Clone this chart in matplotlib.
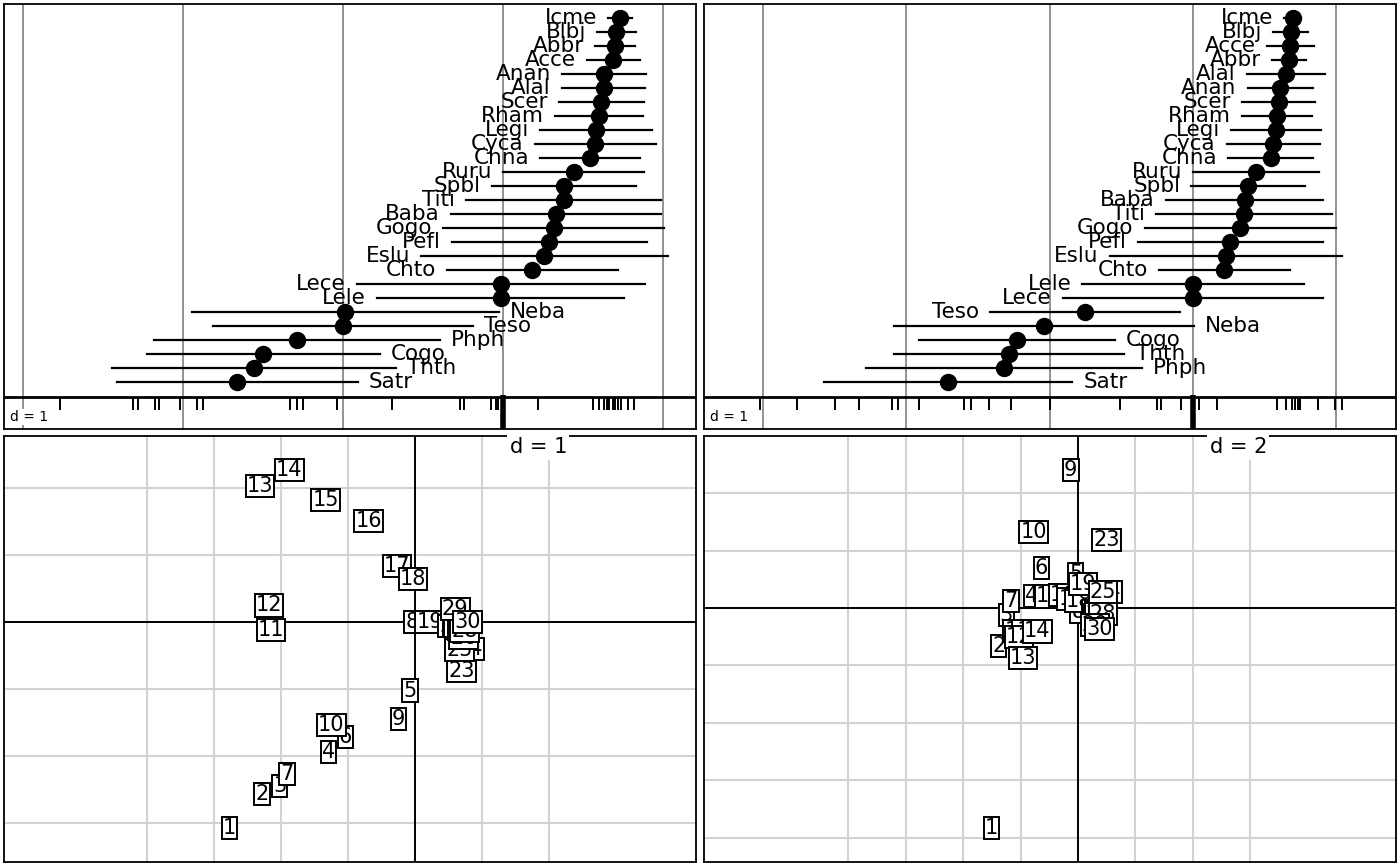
import matplotlib.pyplot as plt

# Species on score 1 (top to bottom as drawn)
species_1 = ["Icme", "Blbj", "Abbr", "Acce", "Anan", "Alal", "Scer", "Rham", "Legi",
             "Cyca", "Chna", "Ruru", "Spbl", "Titi", "Baba", "Gogo", "Pefl", "Eslu",
             "Chto", "Lece", "Lele", "Neba", "Teso", "Phph", "Cogo", "Thth", "Satr"]
mean_1 = [0.732, 0.709, 0.698, 0.690, 0.631, 0.629, 0.615, 0.601, 0.581,
          0.576, 0.545, 0.442, 0.381, 0.378, 0.331, 0.317, 0.289, 0.259,
          0.184, -0.014, -0.014, -0.987, -1.001, -1.288, -1.499, -1.558, -1.661]
sd_1 = [0.076, 0.120, 0.124, 0.164, 0.260, 0.261, 0.266, 0.275, 0.350,
        0.377, 0.312, 0.441, 0.452, 0.608, 0.656, 0.691, 0.608, 0.769,
        0.534, 0.901, 0.773, 0.960, 0.814, 0.892, 0.729, 0.889, 0.752]

# Species on score 2
species_2 = ["Icme", "Blbj", "Acce", "Abbr", "Alal", "Anan", "Scer", "Rham", "Legi",
             "Cyca", "Chna", "Ruru", "Spbl", "Baba", "Titi", "Gogo", "Pefl", "Eslu",
             "Chto", "Lele", "Lece", "Teso", "Neba", "Cogo", "Thth", "Phph", "Satr"]
mean_2 = [0.695, 0.683, 0.680, 0.670, 0.648, 0.611, 0.598, 0.586, 0.579,
          0.561, 0.542, 0.442, 0.385, 0.360, 0.354, 0.329, 0.260, 0.232,
          0.219, 0.0, 0.0, -0.752, -1.040, -1.228, -1.281, -1.319, -1.707]
sd_2 = [0.058, 0.121, 0.164, 0.116, 0.271, 0.230, 0.257, 0.244, 0.313,
        0.324, 0.296, 0.440, 0.396, 0.547, 0.614, 0.666, 0.645, 0.811,
        0.456, 0.772, 0.908, 0.664, 1.049, 0.684, 0.803, 0.962, 0.865]

# Site scores (sites 1..30)
sites = list(range(1, 31))
site_x1 = [-2.77, -2.28, -2.02, -1.29, -0.075, -1.04, -1.91, -0.044, -0.244, -1.25,
           -2.15, -2.175, -2.31, -1.875, -1.334, -0.694, -0.272, -0.03, 0.219, 0.56,
           0.63, 0.65, 0.69, 0.82, 0.66, 0.72, 0.70, 0.74, 0.60, 0.78]
site_y1 = [-3.07, -2.56, -2.44, -1.94, -1.02, -1.71, -2.26, 0.0, -1.45, -1.53,
           -0.12, 0.25, 2.04, 2.27, 1.82, 1.51, 0.84, 0.65, 0.0, -0.05,
           -0.02, -0.06, -0.73, -0.40, -0.42, -0.24, -0.10, -0.13, 0.20, 0.0]
site_x2 = [-3.02, -2.76, -2.50, -1.60, -0.085, -1.27, -2.33, 0.0, -0.25, -1.55,
           -2.10, -2.06, -1.91, -1.42, -1.00, -0.51, -0.22, 0.04, 0.17, 0.65,
           0.75, 0.69, 0.99, 1.04, 0.87, 0.71, 0.73, 0.87, 0.59, 0.75]
site_y2 = [-7.67, -1.34, -0.23, 0.41, 1.17, 1.40, 0.23, -0.14, 4.79, 2.66,
           -0.80, -1.00, -1.75, -0.82, 0.40, 0.45, 0.30, 0.25, 0.82, -0.10,
           -0.15, -0.25, 2.37, 0.56, 0.56, -0.30, -0.20, -0.20, -0.60, -0.72]


def style_frame(ax):
    ax.set_xticks([])
    ax.set_yticks([])
    for sp in ax.spines.values():
        sp.set_linewidth(1.3)
        sp.set_color("black")


def distri_panel(ax, names, means, sds, rug, xlim):
    n = len(names)
    ybot = -3.36
    ax.set_xlim(*xlim)
    ax.set_ylim(ybot, n)
    # grid
    for gx in range(-3, 2):
        ax.axvline(gx, color="#8a8a8a", lw=1.3, zorder=0)
    # rug of site scores
    base = -1.07
    ax.axhline(base, color="black", lw=2, zorder=2)
    ax.vlines(rug, -2.0, base, color="black", lw=1.4, zorder=2)
    ax.vlines(0, ybot, base + 0.15, color="black", lw=4, zorder=2)
    center = (xlim[0] + xlim[1]) / 2
    for i, (name, m, s) in enumerate(zip(names, means, sds)):
        y = n - 1 - i
        ax.plot([m - s, m + s], [y, y], color="black", lw=1.6, zorder=2)
        ax.plot(m, y, "o", color="black", ms=11.5, zorder=3)
        if m > center:
            ax.annotate(name, (m - s, y), xytext=(-8, 0), textcoords="offset points",
                        ha="right", va="center", fontsize=15.5, zorder=4)
        else:
            ax.annotate(name, (m + s, y), xytext=(8, 0), textcoords="offset points",
                        ha="left", va="center", fontsize=15.5, zorder=4)
    ax.text(0.009, 0.012, "d = 1", transform=ax.transAxes, fontsize=10,
            ha="left", va="bottom", zorder=5,
            bbox=dict(boxstyle="square,pad=0.1", fc="white", ec="none"))
    style_frame(ax)


def label_panel(ax, xs, ys, xlim, ylim, vgrid, hgrid, dtext):
    ax.set_xlim(*xlim)
    ax.set_ylim(*ylim)
    for v in vgrid:
        ax.axvline(v, color="#d3d3d3", lw=1.5, zorder=0)
    for h in hgrid:
        ax.axhline(h, color="#d3d3d3", lw=1.5, zorder=0)
    ax.axvline(0, color="black", lw=1.4, zorder=1)
    ax.axhline(0, color="black", lw=1.4, zorder=1)
    for s, x, y in zip(sites, xs, ys):
        ax.text(x, y, str(s), ha="center", va="center", fontsize=15, zorder=3,
                bbox=dict(boxstyle="square,pad=0.05", fc="white", ec="black", lw=1.4))
    ax.text(0.772, 0.997, dtext, transform=ax.transAxes, ha="center", va="top",
            fontsize=15, zorder=4,
            bbox=dict(boxstyle="square,pad=0.12", fc="white", ec="none"))
    style_frame(ax)


def main():
    fig = plt.figure(figsize=(14, 8.66), dpi=100)
    W, H = 1400, 866

    def add(px_left, px_top, px_w, px_h):
        return fig.add_axes([px_left / W, (H - px_top - px_h) / H, px_w / W, px_h / H])

    ax_tl = add(4, 4, 692, 425)
    ax_tr = add(704, 4, 692, 425)
    ax_bl = add(4, 436, 692, 426)
    ax_br = add(704, 436, 692, 426)

    # Species distribution along site scores
    distri_panel(ax_tl, species_1, mean_1, sd_1, site_x1, (-3.119, 1.206))
    distri_panel(ax_tr, species_2, mean_2, sd_2, site_x2, (-3.412, 1.417))

    # Site maps
    label_panel(ax_bl, site_x1, site_y1, (-6.13, 4.19), (-3.58, 2.78),
                range(-4, 3), range(-3, 3), "d = 1")
    label_panel(ax_br, site_x2, site_y2, (-13.03, 11.08), (-8.85, 5.99),
                range(-8, 7, 2), range(-8, 5, 2), "d = 2")

    fig.savefig("out.png", dpi=100)


if __name__ == "__main__":
    main()
